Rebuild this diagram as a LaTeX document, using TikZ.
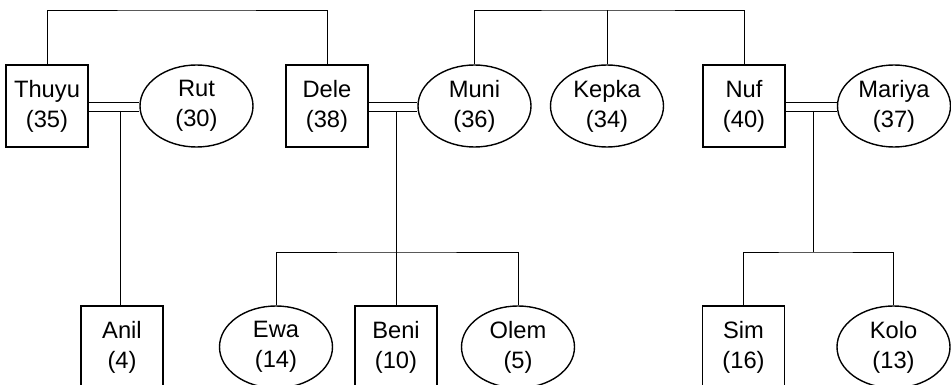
\documentclass[tikz,border=0pt]{standalone}
\usepackage{fontspec}
\setmainfont{Liberation Sans}
\usetikzlibrary{shapes.geometric}
\begin{document}
\begin{tikzpicture}[x=1pt,y=-1pt,
  person/.style={draw,line width=1.4pt,inner sep=0pt,align=center,font=\fontsize{23.7}{30}\selectfont},
  male/.style={person,rectangle,minimum width=82pt,minimum height=82pt},
  female/.style={person,ellipse,minimum width=113pt,minimum height=82pt},
  link/.style={line width=0.8pt}]
\useasboundingbox (0,0) rectangle (951,385);
% top row
\node[male]   (thuyu)  at (47,106)    {Thuyu\\(35)};
\node[female] (rut)    at (196.5,106) {Rut\\(30)};
\node[male]   (dele)   at (327,106)   {Dele\\(38)};
\node[female] (muni)   at (474.5,106) {Muni\\(36)};
\node[female] (kepka)  at (607,106)   {Kepka\\(34)};
\node[male]   (nuf)    at (744,106)   {Nuf\\(40)};
\node[female] (mariya) at (894,106)   {Mariya\\(37)};
% bottom row
\node[male]   (anil) at (122,347)   {Anil\\(4)};
\node[female] (ewa)  at (276,347)   {Ewa\\(14)};
\node[male]   (beni) at (396,347)   {Beni\\(10)};
\node[female] (olem) at (518,347)   {Olem\\(5)};
\node[male]   (sim)  at (743.5,347) {Sim\\(16)};
\node[female] (kolo) at (893.5,347) {Kolo\\(13)};
% sibling links on top
\coordinate (ta) at (186,10);
\coordinate (tb) at (607,10);
\draw[link] (thuyu.north) |- (ta) -| (dele.north);
\draw[link] (muni.north) |- (tb) -| (nuf.north);
\draw[link] (kepka.north) -- (tb);
% marriages
\foreach \a/\b in {thuyu/rut,dele/muni,nuf/mariya}{
  \draw[link] ([yshift=4pt]\a.east) -- ([yshift=4pt]\b.west);
  \draw[link] ([yshift=-5pt]\a.east) -- ([yshift=-5pt]\b.west);
}
% children
\coordinate (c1) at (120,111);
\coordinate (c2) at (396,111);
\coordinate (c3) at (813,111);
\coordinate (b2) at (396,252);
\coordinate (b3) at (813,252);
\draw[link] (c1) -- (c1 |- anil.north);
\draw[link] (c2) -- (beni.north);
\draw[link] (ewa.north) |- (b2) -| (olem.north);
\draw[link] (c3) -- (b3);
\draw[link] (sim.north) |- (b3) -| (kolo.north);
\end{tikzpicture}
\end{document}
